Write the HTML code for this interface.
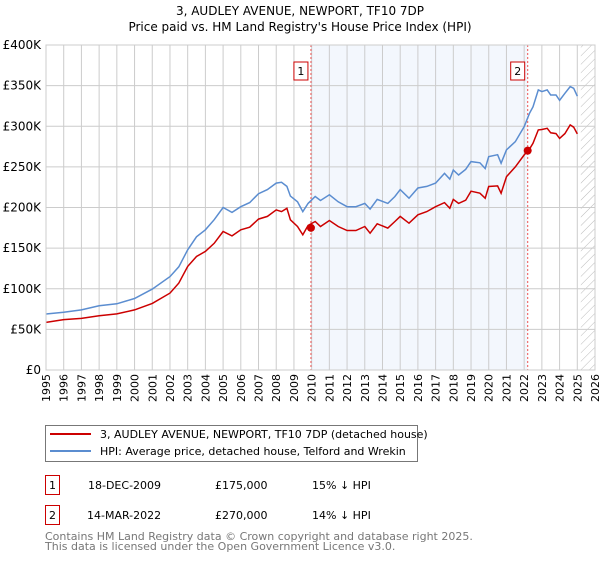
<!DOCTYPE html>
<html><head><meta charset="utf-8"><style>
body{margin:0;background:#fff;font-family:"DejaVu Sans","Liberation Sans",sans-serif;}
svg text{font-family:"DejaVu Sans","Liberation Sans",sans-serif;}
</style></head><body>
<svg id="chart" width="600" height="560" xmlns="http://www.w3.org/2000/svg">
<defs><pattern id="hatch" width="6" height="6" patternUnits="userSpaceOnUse" patternTransform="rotate(45)"><line x1="0" y1="0" x2="0" y2="6" stroke="#bbb" stroke-width="1"/></pattern></defs>
<text x="300" y="15" text-anchor="middle" font-size="12">3, AUDLEY AVENUE, NEWPORT, TF10 7DP</text>
<text x="300" y="31" text-anchor="middle" font-size="12">Price paid vs. HM Land Registry's House Price Index (HPI)</text>
<g id="plot"></g>
<g>
<rect x="45.5" y="425.5" width="372" height="36" fill="#fff" stroke="#777"/>
<line x1="50" y1="434" x2="91" y2="434" stroke="#cc0000" stroke-width="2"/>
<text x="100" y="438" font-size="11">3, AUDLEY AVENUE, NEWPORT, TF10 7DP (detached house)</text>
<line x1="50" y1="451" x2="91" y2="451" stroke="#5b8dd0" stroke-width="2"/>
<text x="100" y="455" font-size="11">HPI: Average price, detached house, Telford and Wrekin</text>
</g>
<g font-size="11">
<rect x="45.5" y="475.5" width="14" height="19" fill="#fff" stroke="#cc0000"/><text x="52.5" y="489" text-anchor="middle">1</text>
<text x="88" y="489">18-DEC-2009</text><text x="215" y="489">£175,000</text><text x="312" y="489">15% ↓ HPI</text>
<rect x="45.5" y="505.5" width="14" height="19" fill="#fff" stroke="#cc0000"/><text x="52.5" y="519" text-anchor="middle">2</text>
<text x="87" y="519">14-MAR-2022</text><text x="215" y="519">£270,000</text><text x="312" y="519">14% ↓ HPI</text>
</g>
<text x="45" y="540" font-size="11" fill="#777">Contains HM Land Registry data © Crown copyright and database right 2025.</text>
<text x="45" y="550" font-size="11" fill="#777">This data is licensed under the Open Government Licence v3.0.</text>
</svg>
<script>
const yearTicks=[1995,1996,1997,1998,1999,2000,2001,2002,2003,2004,2005,2006,2007,2008,2009,2010,2011,2012,2013,2014,2015,2016,2017,2018,2019,2020,2021,2022,2023,2024,2025,2026];
const valueTicks=[0,50,100,150,200,250,300,350,400];
const valueLabels=["£0","£50K","£100K","£150K","£200K","£250K","£300K","£350K","£400K"];
const hpiYears=[1995,1996,1997,1998,1999,2000,2001,2002,2002.5,2003,2003.5,2004,2004.5,2005,2005.5,2006,2006.5,2007,2007.5,2008,2008.3,2008.6,2008.8,2009.2,2009.5,2009.8,2010.2,2010.5,2011,2011.5,2012,2012.5,2013,2013.3,2013.7,2014.3,2014.7,2015,2015.5,2016,2016.5,2017,2017.5,2017.8,2018,2018.3,2018.7,2019,2019.5,2019.8,2020,2020.5,2020.7,2021,2021.5,2022,2022.3,2022.5,2022.8,2023,2023.3,2023.5,2023.8,2024,2024.3,2024.6,2024.8,2025.0];
const hpiValues=[68.9,71,74,79,81.5,88,99.6,115,127,148,164,172.5,185,200,194,201,206,217,222,230,231,226,214,207,195,205,213.5,208.6,215.6,207,201,201,205,198,210,205,213.5,222,211.5,224,226,230,242,235,246,240,247,256.5,255,248,262.7,265,254.5,271,281,299.6,316,324,344.7,342.6,344.7,338.5,338.5,332,340.6,348.8,346.7,337];
const priceValues=[58.6,62,63.5,66.8,69,74,82,94.7,107,127.5,139.7,146,156,170.5,165,172.5,175.8,185.7,189,197,195,199,184.8,176.6,166.4,178,182.8,176.6,184,176.6,171.7,171.7,176.6,168.4,180,174.6,182.8,189,180.7,191,195,201,206,199,210,205,209,220,217.6,211.5,225.8,226.6,217.6,238,250,264.7,272,279,295.5,296,297.5,292,291,285,291,301.6,298.8,290.6];
const saleYears=[2009.96,2022.2];
const saleValues=[175,270];
const saleLabels=["1","2"];
const X0=46,X1=595,Y0=370,Y1=45;
const xs=y=>X0+(y-1995)/(2026-1995)*(X1-X0);
const ys=v=>Y0-v/400*(Y0-Y1);
const NS="http://www.w3.org/2000/svg";
const g=document.getElementById('plot');
function mk(t,a,p){const e=document.createElementNS(NS,t);for(const k in a)e.setAttribute(k,a[k]);(p||g).appendChild(e);return e;}
let r=mk('rect',{x:xs(saleYears[0]),y:Y1,width:xs(saleYears[1])-xs(saleYears[0]),height:Y0-Y1,fill:'#eef3fc',opacity:0.7});


let h=mk('rect',{x:xs(2025.2),y:Y1,width:X1-xs(2025.2),height:Y0-Y1,fill:'url(#hatch)'});


yearTicks.forEach(yr=>{
  let l=mk('line',{x1:xs(yr),x2:xs(yr),y1:Y1,y2:Y0,stroke:'#ccc','stroke-width':1});
  
  
  let t=mk('text',{x:0,y:0,'font-size':11,'text-anchor':'end',transform:`translate(${xs(yr)+4},${Y0+4}) rotate(-90)`});
  
  
  t.textContent=yr;
});
valueTicks.forEach((v,i)=>{
  let l=mk('line',{x1:X0,x2:X1,y1:ys(v),y2:ys(v),stroke:'#ccc','stroke-width':1});
  
  
  let t=mk('text',{x:X0-5,y:ys(v)+4,'font-size':12,'text-anchor':'end'});
  
  
  t.textContent=valueLabels[i];
});
saleYears.forEach((yr,i)=>{
  let l=mk('line',{x1:xs(yr),x2:xs(yr),y1:Y1,y2:Y0,stroke:'#e55','stroke-width':1,'stroke-dasharray':'2,2'});
  
  
  let b=mk('rect',{x:xs(yr)-17,y:62,width:14,height:18,fill:'#fff',stroke:'#cc0000'});
  
  
  let t=mk('text',{x:xs(yr)-10,y:75,'font-size':11,'text-anchor':'middle'});
  
  
  t.textContent=saleLabels[i];
});
const pts=(ys_)=>hpiYears.map((yr,i)=>xs(yr).toFixed(1)+','+ys(ys_[i]).toFixed(1)).join(' ');
let hl=mk('polyline',{points:pts(hpiValues),fill:'none',stroke:'#5b8dd0','stroke-width':1.5});


let pl=mk('polyline',{points:pts(priceValues),fill:'none',stroke:'#cc0000','stroke-width':1.5});


saleYears.forEach((yr,i)=>{
  let c=mk('circle',{cx:xs(yr),cy:ys(saleValues[i]),r:4,fill:'#cc0000'});
  
  
});
let ax=mk('rect',{x:X0,y:Y1,width:X1-X0,height:Y0-Y1,fill:'none',stroke:'#ccc'});


</script>
</body></html>
